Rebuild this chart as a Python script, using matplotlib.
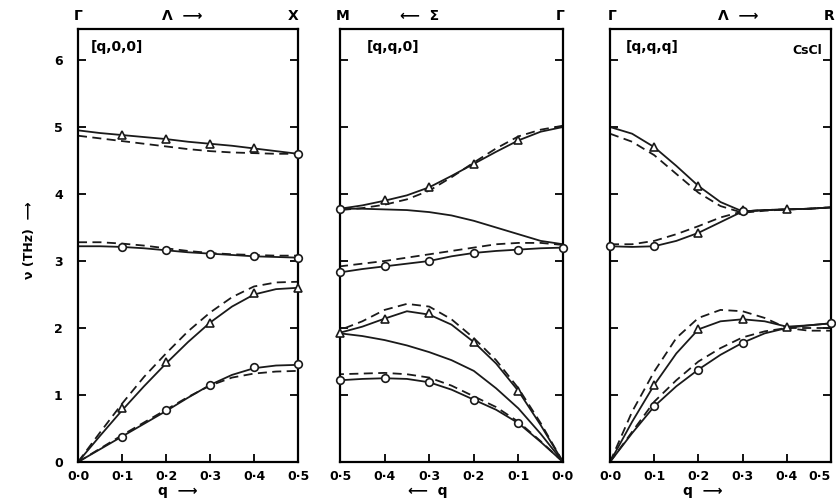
import numpy as np
import matplotlib
matplotlib.use("Agg")
import matplotlib.pyplot as plt

plt.rcParams['font.family'] = ['DejaVu Sans']

q = [0.0, 0.05, 0.1, 0.15, 0.2, 0.25, 0.3, 0.35, 0.4, 0.45, 0.5]
qm = [0.0, 0.1, 0.2, 0.3, 0.4, 0.5]
xtick_labels = ["0·0", "0·1", "0·2", "0·3", "0·4", "0·5"]
ytick_labels = ["0", "1", "2", "3", "4", "5", "6"]

# ---------- Panel 1: [q,0,0] ----------
p1_opt_up_s = [4.95, 4.91, 4.88, 4.85, 4.82, 4.78, 4.75, 4.72, 4.68, 4.64, 4.60]
p1_opt_up_d = [4.87, 4.83, 4.79, 4.75, 4.71, 4.67, 4.64, 4.62, 4.61, 4.60, 4.60]
p1_opt_mid_s = [3.22, 3.22, 3.21, 3.19, 3.16, 3.13, 3.11, 3.09, 3.07, 3.06, 3.05]
p1_opt_mid_d = [3.28, 3.28, 3.26, 3.23, 3.19, 3.15, 3.12, 3.10, 3.09, 3.08, 3.08]
p1_la_s = [0, 0.39, 0.77, 1.13, 1.47, 1.79, 2.08, 2.32, 2.50, 2.58, 2.60]
p1_la_d = [0, 0.44, 0.87, 1.27, 1.62, 1.95, 2.23, 2.46, 2.62, 2.68, 2.69]
p1_ta_s = [0, 0.19, 0.38, 0.57, 0.76, 0.96, 1.15, 1.30, 1.40, 1.44, 1.45]
p1_ta_d = [0, 0.20, 0.40, 0.59, 0.78, 0.97, 1.14, 1.26, 1.32, 1.35, 1.36]
p1_tri_q = [0.1, 0.2, 0.3, 0.4, 0.1, 0.2, 0.3, 0.4, 0.5]
p1_tri_v = [4.88, 4.82, 4.75, 4.68, 0.80, 1.50, 2.08, 2.52, 2.60]
p1_circ_q = [0.5, 0.1, 0.2, 0.3, 0.4, 0.5, 0.1, 0.2, 0.3, 0.4, 0.5]
p1_circ_v = [4.60, 3.21, 3.16, 3.11, 3.07, 3.05, 0.38, 0.77, 1.15, 1.42, 1.46]

# ---------- Panel 2: [q,q,0] ----------
p2_up_s = [5.00, 4.93, 4.80, 4.63, 4.45, 4.27, 4.10, 3.98, 3.90, 3.83, 3.78]
p2_up_d = [5.02, 4.96, 4.86, 4.68, 4.47, 4.25, 4.05, 3.92, 3.84, 3.79, 3.76]
p2_up2_s = [3.25, 3.30, 3.40, 3.50, 3.60, 3.68, 3.73, 3.76, 3.77, 3.78, 3.78]
p2_opt_s = [3.20, 3.19, 3.17, 3.15, 3.12, 3.07, 3.00, 2.96, 2.92, 2.88, 2.83]
p2_opt_d = [3.24, 3.27, 3.27, 3.25, 3.20, 3.15, 3.10, 3.05, 3.00, 2.96, 2.92]
p2_la_s = [0, 0.55, 1.06, 1.47, 1.79, 2.05, 2.20, 2.25, 2.14, 2.02, 1.93]
p2_la_d = [0, 0.58, 1.10, 1.52, 1.85, 2.13, 2.32, 2.36, 2.27, 2.10, 1.97]
p2_mid_s = [0, 0.42, 0.80, 1.10, 1.36, 1.52, 1.64, 1.74, 1.82, 1.88, 1.92]
p2_low_s = [0, 0.30, 0.58, 0.78, 0.93, 1.08, 1.19, 1.24, 1.25, 1.24, 1.22]
p2_low_d = [0, 0.31, 0.60, 0.82, 0.98, 1.14, 1.26, 1.31, 1.33, 1.32, 1.31]
p2_tri_q = [0.4, 0.3, 0.2, 0.1, 0.5, 0.4, 0.3, 0.2, 0.1]
p2_tri_v = [3.91, 4.10, 4.45, 4.80, 1.93, 2.14, 2.22, 1.79, 1.06]
p2_circ_q = [0.5, 0.5, 0.4, 0.3, 0.2, 0.1, 0.0, 0.5, 0.4, 0.3, 0.2, 0.1]
p2_circ_v = [3.78, 2.83, 2.92, 3.00, 3.12, 3.17, 3.20, 1.22, 1.25, 1.19, 0.93, 0.58]

# ---------- Panel 3: [q,q,q] ----------
p3_up_s = [5.00, 4.90, 4.70, 4.42, 4.12, 3.88, 3.74, 3.76, 3.77, 3.78, 3.80]
p3_up_d = [4.90, 4.78, 4.58, 4.30, 4.02, 3.82, 3.72, 3.75, 3.77, 3.78, 3.80]
p3_opt_s = [3.22, 3.21, 3.22, 3.30, 3.42, 3.58, 3.74, 3.76, 3.77, 3.78, 3.80]
p3_opt_d = [3.25, 3.25, 3.30, 3.40, 3.52, 3.65, 3.74, 3.76, 3.77, 3.78, 3.80]
p3_ac1_s = [0, 0.60, 1.15, 1.62, 1.98, 2.10, 2.13, 2.10, 2.02, 2.04, 2.07]
p3_ac1_d = [0, 0.75, 1.35, 1.85, 2.15, 2.27, 2.25, 2.15, 2.00, 1.96, 1.96]
p3_ac2_s = [0, 0.43, 0.83, 1.13, 1.38, 1.60, 1.78, 1.92, 2.00, 2.04, 2.07]
p3_ac2_d = [0, 0.45, 0.90, 1.22, 1.50, 1.70, 1.86, 1.95, 2.00, 2.00, 2.00]
p3_tri_q = [0.1, 0.2, 0.3, 0.4, 0.2, 0.1, 0.2, 0.3, 0.4]
p3_tri_v = [4.70, 4.12, 3.76, 3.77, 3.42, 1.15, 1.98, 2.13, 2.01]
p3_circ_q = [0.0, 0.1, 0.3, 0.1, 0.2, 0.3, 0.5]
p3_circ_v = [3.22, 3.22, 3.74, 0.83, 1.38, 1.78, 2.08]

W, H = 836, 498
fig = plt.figure(figsize=(W / 100, H / 100), dpi=100)
fig.patch.set_facecolor('white')

ybot, ytop = 462, 29
ymax = (ybot - ytop) / 67.0
panels_px = [(78, 298), (340, 563), (610, 831)]
axes = []
for (l, r) in panels_px:
    ax = fig.add_axes([l / W, 1 - ybot / H, (r - l) / W, (ybot - ytop) / H])
    axes.append(ax)

LW = 1.3
FS = 9
for i, ax in enumerate(axes):
    ax.set_ylim(0, ymax)
    if i == 1:
        ax.set_xlim(0.5, 0.0)
    else:
        ax.set_xlim(0.0, 0.5)
    for s in ax.spines.values():
        s.set_linewidth(1.6)
    ax.set_xticks(qm)
    ax.set_xticklabels(xtick_labels, fontsize=FS, fontweight='bold')
    ax.set_yticks(range(7))
    if i == 0:
        ax.set_yticklabels(ytick_labels, fontsize=FS, fontweight='bold')
    else:
        ax.set_yticklabels([])
    ax.tick_params(axis='both', direction='in', length=6, width=1.3,
                   right=True, top=False)
    ax.tick_params(axis='x', pad=6)
    ax.tick_params(axis='y', pad=11)

# keep the last label of the right panel inside the picture
axes[2].get_xticklabels()[-1].set_horizontalalignment('right')
axes[2].get_xticklabels()[-1].set_x(0.5)

def solid(ax, y):
    ax.plot(q, y, '-', color='#1a1a1a', lw=LW)

def dashed(ax, y):
    ax.plot(q, y, '--', color='#1a1a1a', lw=LW, dashes=(5, 3))

def marks(ax, tq, tv, cq, cv):
    ax.plot(tq, tv, '^', ms=5.5, mfc='white', mec='#1a1a1a', mew=1.2, ls='none', clip_on=False, zorder=5)
    ax.plot(cq, cv, 'o', ms=5.5, mfc='white', mec='#1a1a1a', mew=1.2, ls='none', clip_on=False, zorder=5)

a1, a2, a3 = axes
for y in (p1_opt_up_s, p1_opt_mid_s, p1_la_s, p1_ta_s):
    solid(a1, y)
for y in (p1_opt_up_d, p1_opt_mid_d, p1_la_d, p1_ta_d):
    dashed(a1, y)
marks(a1, p1_tri_q, p1_tri_v, p1_circ_q, p1_circ_v)

for y in (p2_up_s, p2_up2_s, p2_opt_s, p2_la_s, p2_mid_s, p2_low_s):
    solid(a2, y)
for y in (p2_up_d, p2_opt_d, p2_la_d, p2_low_d):
    dashed(a2, y)
marks(a2, p2_tri_q, p2_tri_v, p2_circ_q, p2_circ_v)

for y in (p3_up_s, p3_opt_s, p3_ac1_s, p3_ac2_s):
    solid(a3, y)
for y in (p3_up_d, p3_opt_d, p3_ac1_d, p3_ac2_d):
    dashed(a3, y)
marks(a3, p3_tri_q, p3_tri_v, p3_circ_q, p3_circ_v)

# Panel labels
a1.text(0.06, 0.975, "[q,0,0]", transform=a1.transAxes, fontsize=10, fontweight='bold', va='top')
a2.text(0.12, 0.975, "[q,q,0]", transform=a2.transAxes, fontsize=10, fontweight='bold', va='top')
a3.text(0.07, 0.975, "[q,q,q]", transform=a3.transAxes, fontsize=10, fontweight='bold', va='top')
a3.text(0.96, 0.965, "CsCl", transform=a3.transAxes, fontsize=9, fontweight='bold', va='top', ha='right')

# Header symmetry labels (figure pixel coords)
def ftxt(x, y, s, **kw):
    fig.text(x / W, 1 - y / H, s, fontsize=10, fontweight='bold', va='center', **kw)

ftxt(78, 16, "Γ", ha='center')
ftxt(162, 16, "Λ  ⟶", ha='left')
ftxt(293, 16, "X", ha='center')
ftxt(343, 16, "M", ha='center')
ftxt(400, 16, "⟵  Σ", ha='left')
ftxt(560, 16, "Γ", ha='center')
ftxt(612, 16, "Γ", ha='center')
ftxt(718, 16, "Λ  ⟶", ha='left')
ftxt(829, 16, "R", ha='center')

# bottom q labels
ftxt(158, 491, "q  ⟶", ha='left')
ftxt(408, 491, "⟵  q", ha='left')
ftxt(683, 491, "q  ⟶", ha='left')

# y label
fig.text(30 / W, 1 - 240 / H, "ν (THz)  ⟶", rotation=90, fontsize=9, fontweight='bold',
         ha='center', va='center')

fig.savefig("out.png", dpi=100, facecolor='white')
